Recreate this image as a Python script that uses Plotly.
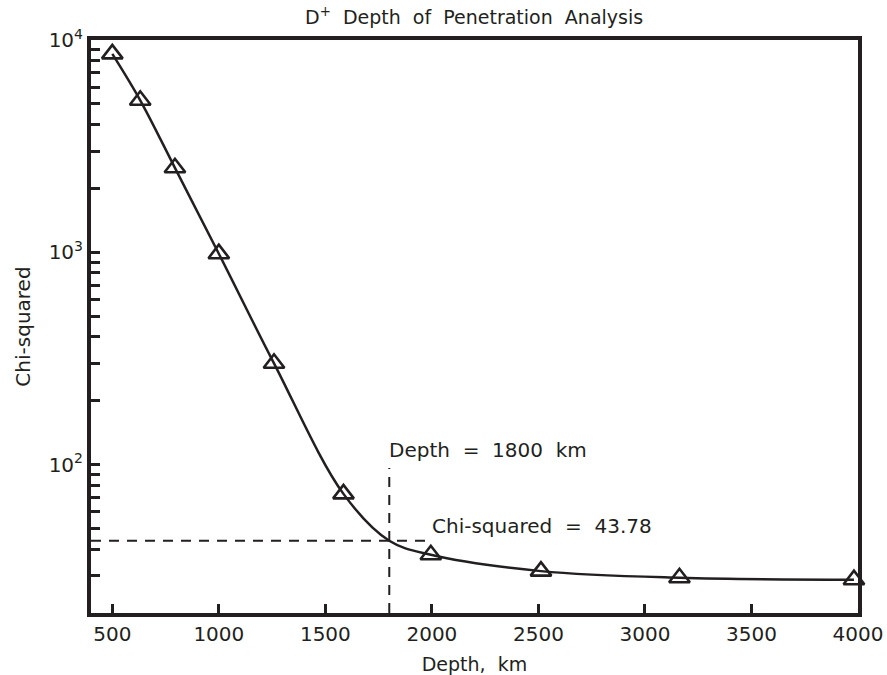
import math
import plotly.graph_objects as go

# Data
depth_km = [500, 631, 794, 1000, 1259, 1585, 1995, 2512, 3162, 3981]
chi_squared = [8600, 5200, 2500, 985, 300, 72.8, 37.6, 31.5, 29.3, 28.7]
best_depth = 1800
best_chi = 43.78

# fitted curve passes through the data and the best-fit point
curve_x = [500, 631, 794, 1000, 1259, 1585, 1800, 1995, 2512, 3162, 3981]
curve_y = [8600, 5200, 2500, 985, 300, 72.8, 43.78, 37.6, 31.5, 29.3, 28.7]

x_ticks = [500, 1000, 1500, 2000, 2500, 3000, 3500, 4000]
y_ticks = [20, 30, 40, 50, 60, 70, 80, 90,
           100, 200, 300, 400, 500, 600, 700, 800, 900,
           1000, 2000, 3000, 4000, 5000, 6000, 7000, 8000, 9000, 10000]
y_ticktext = ["10<sup>%d</sup>" % len(str(v)[1:]) if str(v).strip("0") == "1" else "" for v in y_ticks]

INK = "#231f20"
FONT = "DejaVu Sans"

fig = go.Figure()

# guide lines
fig.add_trace(go.Scatter(x=[400, best_depth + 180], y=[best_chi, best_chi], mode="lines",
                         line=dict(color=INK, width=2, dash="10px,8px"), hoverinfo="skip"))
fig.add_trace(go.Scatter(x=[best_depth, best_depth], y=[20, best_chi * 2.2], mode="lines",
                         line=dict(color=INK, width=2, dash="10px,8px"), hoverinfo="skip"))

# curve
fig.add_trace(go.Scatter(x=curve_x, y=curve_y, mode="lines",
                         line=dict(color=INK, width=2.5, shape="spline", smoothing=1.0),
                         hoverinfo="skip"))
# markers
fig.add_trace(go.Scatter(x=depth_km, y=chi_squared, mode="markers", cliponaxis=False,
                         marker=dict(symbol="triangle-up-open", size=18, color=INK,
                                     line=dict(width=2.6, color=INK))))

fig.add_annotation(x=best_depth, y=math.log10(117), xref="x", yref="y",
                   text="Depth\u00a0 =\u00a0 1800\u00a0 km",
                   showarrow=False, xanchor="left", yanchor="middle", xshift=-2,
                   font=dict(family=FONT, size=20, color=INK))
fig.add_annotation(x=2000, y=math.log10(51.3), xref="x", yref="y",
                   text="Chi-squared\u00a0 =\u00a0 %.2f" % best_chi,
                   showarrow=False, xanchor="left", yanchor="middle", xshift=-2,
                   font=dict(family=FONT, size=20, color=INK))

fig.update_layout(
    width=887, height=675,
    margin=dict(l=91, r=29, t=40, b=62, autoexpand=False),
    paper_bgcolor="white", plot_bgcolor="white",
    showlegend=False,
    font=dict(family=FONT, size=20, color=INK),
    title=dict(text="D<sup>+</sup>\u00a0 Depth\u00a0 of\u00a0 Penetration\u00a0 Analysis",
               x=0.5345, xanchor="center", y=0.975, yanchor="middle",
               font=dict(family=FONT, size=19, color=INK)),
    xaxis=dict(range=[400, 4000], tickvals=x_ticks, ticks="inside", ticklen=9, tickwidth=2.5,
               tickcolor=INK, showline=True, linecolor=INK, linewidth=4, mirror=True,
               showgrid=False, zeroline=False, automargin=False,
               title=dict(text="Depth,\u00a0 km", standoff=15, font=dict(size=19)),
               tickfont=dict(size=20)),
    yaxis=dict(type="log", range=[1.30103, 4], tickvals=y_ticks, ticktext=y_ticktext,
               ticks="inside", ticklen=9, tickwidth=2.5, tickcolor=INK,
               showline=True, linecolor=INK, linewidth=4, mirror=True,
               showgrid=False, zeroline=False, automargin=False,
               title=dict(text="Chi-squared", standoff=14, font=dict(size=20)),
               tickfont=dict(size=20)),
)

fig.write_html("out.html")
